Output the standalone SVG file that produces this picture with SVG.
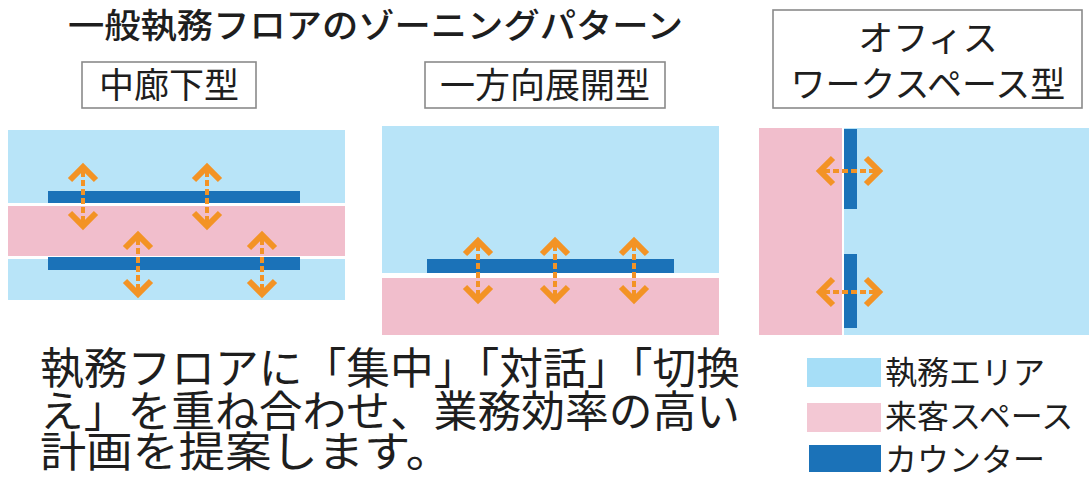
<svg xmlns="http://www.w3.org/2000/svg" width="1089" height="479" viewBox="0 0 1089 479">
<style>
.t{font-family:"Noto Sans CJK JP","Noto Sans CJK SC",sans-serif;fill:#1e1e1e}
.work{fill:#b8e4f8}
.guest{fill:#f1becc}
.ctr{fill:#1b72b8}
.lbox{fill:#fff;stroke:#8a8a8a;stroke-width:1.6}
.chev{fill:none;stroke:#f39325;stroke-width:6;stroke-linejoin:miter}
.shaft{stroke:#f39325;stroke-width:4;stroke-dasharray:6 3}
</style>
<defs>
<g id="av">
<line class="shaft" x1="0" y1="6" x2="0" y2="57"/>
<path class="chev" d="M-13,15 L0,2 L13,15"/>
<path class="chev" d="M-13,48 L0,61 L13,48"/>
</g>
</defs>
<rect width="1089" height="479" fill="#fff"/>

<g id="title">
<text class="t" x="68" y="38" font-size="34" font-weight="500" textLength="615" lengthAdjust="spacingAndGlyphs">一般執務フロアのゾーニングパターン</text>
</g>

<g id="label-naka">
<rect class="lbox" x="82" y="62" width="174" height="46"/>
<text class="t" x="169" y="98" font-size="35" text-anchor="middle">中廊下型</text>
</g>
<g id="label-ippou">
<rect class="lbox" x="425" y="62" width="240" height="46"/>
<text class="t" x="545" y="98" font-size="35" text-anchor="middle">一方向展開型</text>
</g>
<g id="label-office">
<rect class="lbox" x="773" y="10" width="309" height="98"/>
<text class="t" x="928" y="51" font-size="35" text-anchor="middle">オフィス</text>
<text class="t" x="928" y="97" font-size="35" text-anchor="middle">ワークスペース型</text>
</g>

<g id="panel-naka">
<rect class="work" x="8" y="130" width="337" height="73"/>
<rect class="guest" x="8" y="206" width="337" height="50"/>
<rect class="work" x="8" y="259" width="337" height="41"/>
<rect class="ctr" x="48" y="191" width="252" height="12"/>
<rect class="ctr" x="48" y="257" width="252" height="13"/>
</g>
<g id="panel-ippou">
<rect class="work" x="382" y="126" width="337" height="147"/>
<rect class="guest" x="382" y="278" width="337" height="57"/>
<rect class="ctr" x="427" y="259" width="247" height="14"/>
</g>
<g id="panel-office">
<rect class="guest" x="759" y="128" width="83" height="207"/>
<rect class="work" x="844" y="128" width="245" height="207"/>
<rect class="ctr" x="844" y="129" width="13" height="80"/>
<rect class="ctr" x="844" y="254" width="13" height="74"/>
</g>

<g id="connectors">
<use href="#av" transform="translate(83,165)"/>
<use href="#av" transform="translate(207,165)"/>
<use href="#av" transform="translate(138,233)"/>
<use href="#av" transform="translate(262,233)"/>
<use href="#av" transform="translate(478,239)"/>
<use href="#av" transform="translate(555,239)"/>
<use href="#av" transform="translate(634,239)"/>
<use href="#av" transform="translate(818,171) rotate(-90)"/>
<use href="#av" transform="translate(818,292) rotate(-90)"/>
</g>

<g id="body-text">
<text class="t" x="40" y="384" font-size="43" textLength="700" lengthAdjust="spacingAndGlyphs">執務フロアに「集中」「対話」「切換</text>
<text class="t" x="40" y="427" font-size="43" textLength="700" lengthAdjust="spacingAndGlyphs">え」を重ね合わせ、業務効率の高い</text>
<text class="t" x="40" y="467" font-size="42" textLength="412" lengthAdjust="spacingAndGlyphs">計画を提案します。</text>
</g>

<g id="legend">
<rect x="807" y="358" width="74" height="29" fill="#a6def7"/>
<text class="t" x="885" y="384" font-size="32">執務エリア</text>
<rect x="807" y="403" width="74" height="29" fill="#f3c8d4"/>
<text class="t" x="885" y="428" font-size="32">来客スペース</text>
<rect x="809" y="445" width="72" height="27" fill="#1b72b8"/>
<text class="t" x="885" y="471" font-size="32">カウンター</text>
</g>
</svg>
